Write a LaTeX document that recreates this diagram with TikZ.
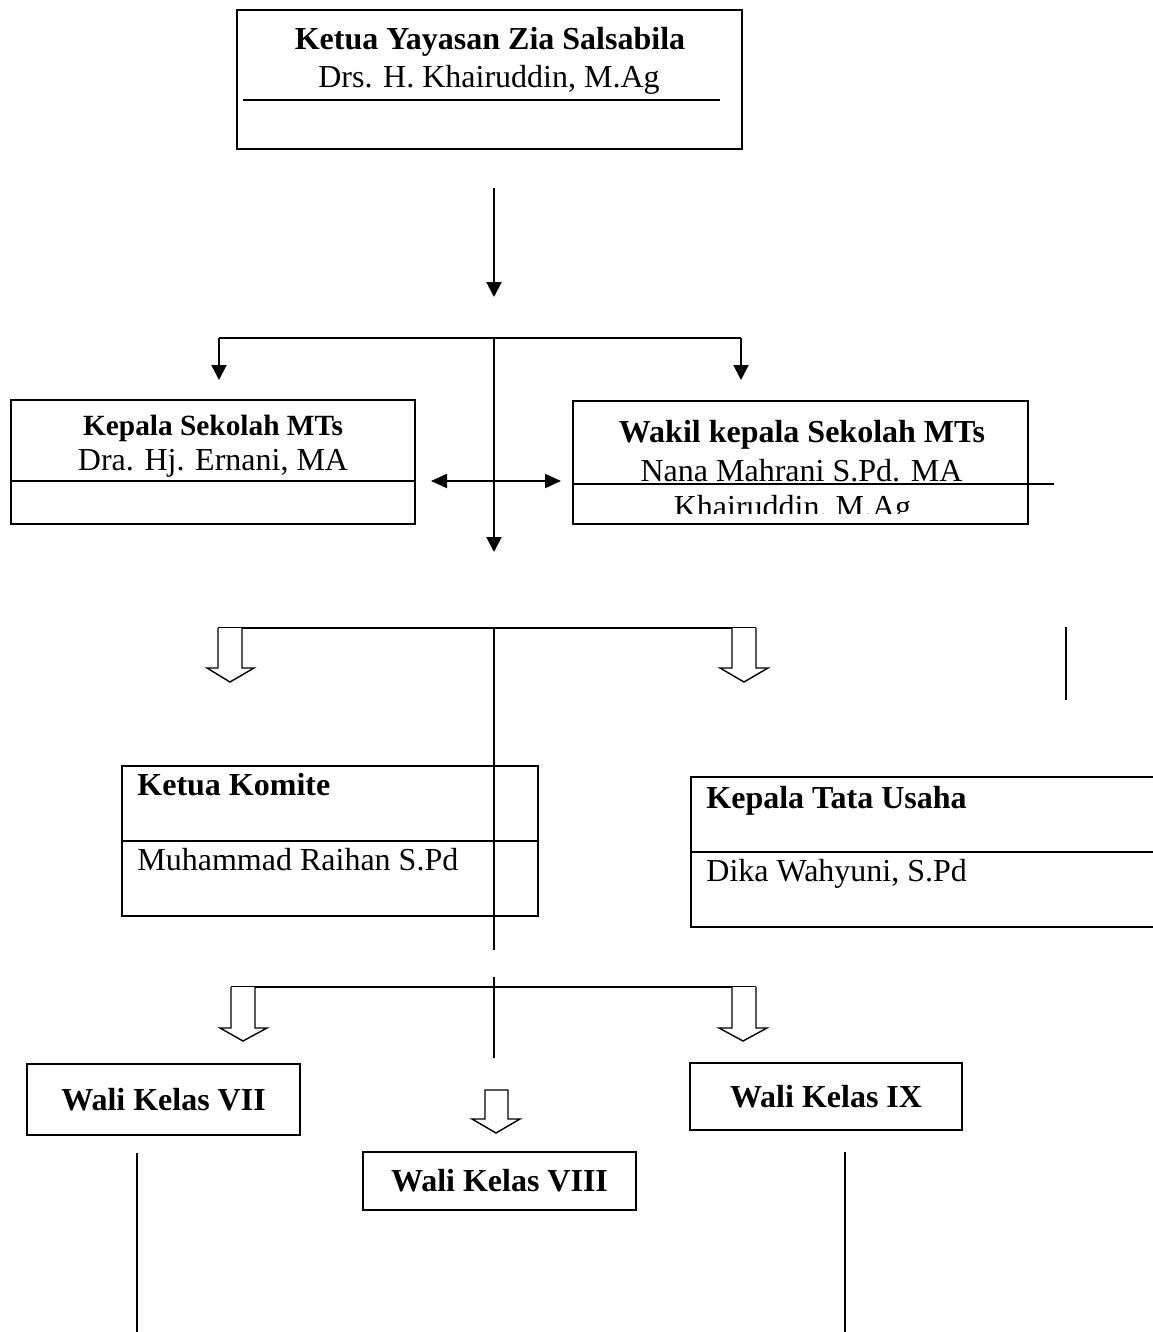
\documentclass[tikz,border=0pt]{standalone}
\usepackage{fontspec}
\setmainfont{Liberation Serif}
\usetikzlibrary{arrows.meta}
\begin{document}
\begin{tikzpicture}[x=0.5pt,y=-0.5pt,
  box/.style={draw, line width=1pt, rectangle, inner sep=0pt},
  lbl/.style={anchor=base, inner sep=0pt, font=\fontsize{16}{19}\selectfont},
  lblb/.style={anchor=base, inner sep=0pt, font=\fontsize{16}{19}\selectfont\bfseries},
  lbls/.style={anchor=base, inner sep=0pt, font=\fontsize{14.67}{17}\selectfont\bfseries},
  wali/.style={box, font=\fontsize{16}{19}\selectfont\bfseries},
  conn/.style={line width=1pt},
  thinline/.style={line width=0.7pt},
  tipdown/.style={-{Triangle[length=7.5pt,width=7.5pt]}},
  hollow/.style={line width=0.7pt, line join=miter, fill=white}
]
\useasboundingbox (0,0) rectangle (1152,1332);

% ---------- top box ----------
\node[box, minimum width=252.5pt, minimum height=69.5pt] (ketua) at (489.5,79.5) {};
\draw[conn] (243,100) -- (720,100);
\node[lblb] (ketuaT) at (490,50) {Ketua Yayasan Zia Salsabila};
\node[lbl] (ketuaN) at (489,88) {Drs. H. Khairuddin, M.Ag};

% arrow below top box
\coordinate (a1) at (494,188);
\coordinate (a2) at (494,297);
\draw[conn, tipdown] (a1) -- (a2);

% T junction
\coordinate (tL) at (219,338);
\coordinate (tR) at (741,338);
\coordinate (tM) at (494,338);
\coordinate (tLd) at (219,380);
\coordinate (tRd) at (741,380);
\coordinate (tMd) at (494,552);
\draw[conn] (tL) -- (tR);
\draw[conn, tipdown] (tL) -- (tLd);
\draw[conn, tipdown] (tR) -- (tRd);
\draw[conn, tipdown] (tM) -- (tMd);

% ---------- Kepala Sekolah ----------
\node[box, minimum width=202pt, minimum height=62pt] (kepsek) at (213,462) {};
\draw[conn] (11,481) -- (415,481);
\node[lbls] (kepsekT) at (213,435) {Kepala Sekolah MTs};
\node[lbl] (kepsekN) at (213,470) {Dra. Hj. Ernani, MA};

% double arrow
\coordinate (dL) at (431,481);
\coordinate (dR) at (561,481);
\draw[conn, {Triangle[length=8pt,width=7pt]}-{Triangle[length=8pt,width=7pt]}] (dL) -- (dR);

% ---------- Wakil ----------
\node[box, minimum width=227.5pt, minimum height=61.5pt] (wakil) at (800.5,462.5) {};
\draw[conn] (573,484) -- (1054,484);
\node[lblb] (wakilT) at (802,442) {Wakil kepala Sekolah MTs};
\node[lbl] (wakilN) at (801.5,481) {Nana Mahrani S.Pd. MA};
\begin{scope}
  \clip (574,486) rectangle (1027,513);
  \node[lbl] (wakilN2) at (792.5,517) {Khairuddin, M.Ag};
\end{scope}

% ---------- second distribution row ----------
\coordinate (rL) at (218,628);
\coordinate (rR) at (756,628);
\coordinate (rM) at (494,628);
\coordinate (rMd) at (494,950);
\draw[conn] (rL) -- (rR);
\draw[thinline] (rM) -- (rMd);
\draw[hollow] (218,628) -- (218,668) -- (207,668) -- (230,682) -- (254,668) -- (242,668) -- (242,628);
\draw[hollow] (732,628) -- (732,668) -- (720,668) -- (744,682) -- (768,668) -- (756,668) -- (756,628);
\coordinate (vR1) at (1066,627);
\coordinate (vR2) at (1066,700);
\draw[conn] (vR1) -- (vR2);

% ---------- Ketua Komite ----------
\node[box, minimum width=208pt, minimum height=75pt] (komite) at (330,841) {};
\draw[conn] (122,841) -- (538,841);
\node[lblb, anchor=base west] (komiteT) at (137,795) {Ketua Komite};
\node[lbl, anchor=base west] (komiteN) at (137,870) {Muhammad Raihan S.Pd};
\draw[thinline] (494,760) -- (494,950);

% ---------- Kepala Tata Usaha ----------
\draw[line width=1pt] (1153,777) -- (691,777) -- (691,927) -- (1153,927);
\draw[conn] (691,852) -- (1153,852);
\node[lblb, anchor=base west] (tuT) at (706,808) {Kepala Tata Usaha};
\node[lbl, anchor=base west] (tuN) at (706,881) {Dika Wahyuni, S.Pd};

% ---------- third distribution row ----------
\coordinate (sL) at (231,987);
\coordinate (sR) at (756,987);
\coordinate (sM1) at (494,977);
\coordinate (sM2) at (494,1058);
\draw[conn] (sL) -- (sR);
\draw[thinline] (sM1) -- (sM2);
\draw[hollow] (231,987) -- (231,1028) -- (220,1028) -- (243,1041) -- (267,1028) -- (255,1028) -- (255,987);
\draw[hollow] (732,987) -- (732,1028) -- (719,1028) -- (743,1041) -- (767,1028) -- (756,1028) -- (756,987);
\draw[hollow] (485,1090) -- (485,1119) -- (472,1119) -- (496,1133) -- (520,1119) -- (508,1119) -- (508,1090) -- cycle;

% ---------- Wali Kelas ----------
\node[wali, minimum width=136.5pt, minimum height=35.5pt] (w7) at (163.5,1099.5) {Wali Kelas VII};
\node[wali, minimum width=136pt, minimum height=33.5pt] (w9) at (826,1096.5) {Wali Kelas IX};
\node[wali, minimum width=136.5pt, minimum height=29pt] (w8) at (499.5,1181) {Wali Kelas VIII};

\coordinate (l7a) at (137,1153);
\coordinate (l7b) at (137,1332);
\coordinate (l9a) at (845,1152);
\coordinate (l9b) at (845,1332);
\draw[thinline] (l7a) -- (l7b);
\draw[thinline] (l9a) -- (l9b);
\end{tikzpicture}
\end{document}
